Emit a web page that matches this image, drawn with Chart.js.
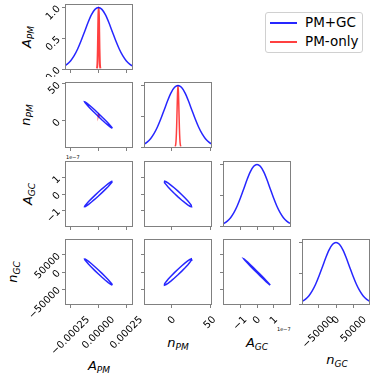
<!DOCTYPE html>
<html><head><meta charset="utf-8">
<script src="https://cdn.jsdelivr.net/npm/chart.js@4.4.1/dist/chart.umd.min.js"></script>
<style>
html,body{margin:0;padding:0;background:#fff;width:374px;height:379px;overflow:hidden;position:relative;font-family:"DejaVu Sans",sans-serif;}
canvas{position:absolute;}
.t{position:absolute;font-family:"DejaVu Sans";font-style:italic;font-size:13px;white-space:nowrap;line-height:1;color:#000;transform:translate(-50%,-50%);}
.t.v{transform:translate(-50%,-50%) rotate(-90deg);}
.t sub{font-size:9px;vertical-align:-3px;font-style:italic;}
.off{position:absolute;font-family:"DejaVu Sans";font-size:5px;color:#000;white-space:nowrap;line-height:1;}
#legend{position:absolute;left:265px;top:12px;width:98px;height:41px;box-sizing:border-box;border:1px solid #d0d0d0;border-radius:3px;background:#fff;}
.ll{position:absolute;height:1.5px;width:27px;}
.lt{position:absolute;font-family:"DejaVu Sans";font-size:13.5px;line-height:1;white-space:nowrap;color:#000;}
</style></head><body>
<div class="t v" style="left:28px;top:37px">A<sub>PM</sub></div>
<div class="t v" style="left:27px;top:115px">n<sub>PM</sub></div>
<div class="t v" style="left:29px;top:194px">A<sub>GC</sub></div>
<div class="t v" style="left:14px;top:272px">n<sub>GC</sub></div>
<div class="t" style="left:99px;top:367px">A<sub>PM</sub></div>
<div class="t" style="left:178px;top:344px">n<sub>PM</sub></div>
<div class="t" style="left:257px;top:344px">A<sub>GC</sub></div>
<div class="t" style="left:337px;top:361px">n<sub>GC</sub></div>
<div class="off" style="left:66px;top:155px">1e−7</div>
<div class="off" style="left:277px;top:327px">1e−7</div>
<div id="legend"></div>
<script>
const BLUE = 'rgba(0,0,255,0.85)';
const RED = 'rgba(255,0,0,0.75)';

// series names (legend)
const seriesNames = ['PM+GC', 'PM-only'];

// tick values and tick labels
const apmTicks = [-0.00025, 0, 0.00025];
const apmTickLabels = ['−0.00025', '0.00000', '0.00025'];
const npmTicks = [0, 50];
const npmTickLabels = ['0', '50'];
const agcTicks = [-1e-7, 0, 1e-7];
const agcTickLabels = ['−1', '0', '1'];
const ngcTicks = [-50000, 0, 50000];
const ngcTickLabels = ['−50000', '0', '50000'];
const pdfTicks = [0, 0.5, 1];
const pdfTickLabels = ['0.0', '0.5', '1.0'];

// marginal curves (PM+GC)
const apmGrid = [-0.000341,-0.00031,-0.000279,-0.000248,-0.000217,-0.000186,-0.000155,-0.000124,-0.000093,-0.000062,-0.000031,0,0.000031,0.000062,0.000093,0.000124,0.000155,0.000186,0.000217,0.000248,0.000279,0.00031,0.000341];
const apmPdf = [0.0228,0.0439,0.0796,0.1353,0.2163,0.3247,0.4578,0.6065,0.7548,0.8825,0.9692,1,0.9692,0.8825,0.7548,0.6065,0.4578,0.3247,0.2163,0.1353,0.0796,0.0439,0.0228];
const npmGrid = [-41.5,-37,-32.5,-28,-23.5,-19,-14.5,-10,-5.5,-1,3.5,8,12.5,17,21.5,26,30.5,35,39.5,44,48.5,53,57.5];
const npmPdf = [0.0228,0.0439,0.0796,0.1353,0.2163,0.3247,0.4578,0.6065,0.7548,0.8825,0.9692,1,0.9692,0.8825,0.7548,0.6065,0.4578,0.3247,0.2163,0.1353,0.0796,0.0439,0.0228];
const agcGrid = [-2.145e-7,-1.95e-7,-1.755e-7,-1.56e-7,-1.365e-7,-1.17e-7,-0.975e-7,-0.78e-7,-0.585e-7,-0.39e-7,-0.195e-7,0,0.195e-7,0.39e-7,0.585e-7,0.78e-7,0.975e-7,1.17e-7,1.365e-7,1.56e-7,1.755e-7,1.95e-7,2.145e-7];
const agcPdf = [0.0228,0.0439,0.0796,0.1353,0.2163,0.3247,0.4578,0.6065,0.7548,0.8825,0.9692,1,0.9692,0.8825,0.7548,0.6065,0.4578,0.3247,0.2163,0.1353,0.0796,0.0439,0.0228];
const ngcGrid = [-105875,-96250,-86625,-77000,-67375,-57750,-48125,-38500,-28875,-19250,-9625,0,9625,19250,28875,38500,48125,57750,67375,77000,86625,96250,105875];
const ngcPdf = [0.0228,0.0439,0.0796,0.1353,0.2163,0.3247,0.4578,0.6065,0.7548,0.8825,0.9692,1,0.9692,0.8825,0.7548,0.6065,0.4578,0.3247,0.2163,0.1353,0.0796,0.0439,0.0228];

// marginal curves (PM-only)
const apmRedGrid = [-0.000013,-0.0000105,-0.000008,-0.0000055,-0.000003,-0.0000005,0.000002,0.0000045,0.000007,0.0000095,0.000012,0.0000145,0.000017];
const apmRedPdf = [0.0111,0.0439,0.1353,0.3247,0.6065,0.8825,1,0.8825,0.6065,0.3247,0.1353,0.0439,0.0111];
const npmRedGrid = [4.4,5.0,5.6,6.2,6.8,7.4,8.0,8.6,9.2,9.8,10.4,11.0,11.6];
const npmRedPdf = [0.0111,0.0439,0.1353,0.3247,0.6065,0.8825,1,0.8825,0.6065,0.3247,0.1353,0.0439,0.0111];

// 2D contours (PM+GC)
const ellApmX = [0.000124,0.00012,0.000107,0.000088,0.000062,0.000032,0,-0.000032,-0.000062,-0.000088,-0.000107,-0.00012,-0.000124,-0.00012,-0.000107,-0.000088,-0.000062,-0.000032,0,0.000032,0.000062,0.000088,0.000107,0.00012];
const ellNpmX = [26,25.39,23.59,20.73,17,12.66,8,3.34,-1,-4.73,-7.59,-9.39,-10,-9.39,-7.59,-4.73,-1,3.34,8,12.66,17,20.73,23.59,25.39];
const ellAgcX = [0.78e-7,0.753e-7,0.676e-7,0.552e-7,0.39e-7,0.202e-7,0,-0.202e-7,-0.39e-7,-0.552e-7,-0.676e-7,-0.753e-7,-0.78e-7,-0.753e-7,-0.676e-7,-0.552e-7,-0.39e-7,-0.202e-7,0,0.202e-7,0.39e-7,0.552e-7,0.676e-7,0.753e-7];
const ellApmNpmY = [-9.9,-8.7,-6.4,-3.1,0.9,5.4,10.1,14.7,18.8,22.1,24.5,25.8,25.9,24.7,22.4,19.1,15.1,10.6,5.9,1.3,-2.8,-6.1,-8.5,-9.8];
const ellApmAgcY = [0.771e-7,0.776e-7,0.728e-7,0.630e-7,0.490e-7,0.316e-7,0.121e-7,-0.083e-7,-0.281e-7,-0.460e-7,-0.607e-7,-0.713e-7,-0.771e-7,-0.776e-7,-0.728e-7,-0.630e-7,-0.490e-7,-0.316e-7,-0.121e-7,0.083e-7,0.281e-7,0.460e-7,0.607e-7,0.713e-7];
const ellApmNgcY = [-38038,-35200,-29965,-22692,-13868,-4100,5948,15589,24170,31100,35917,38281,38038,35200,29965,22692,13868,4100,-5948,-15589,-24170,-31100,-35917,-38281];
const ellNpmAgcY = [-0.761e-7,-0.690e-7,-0.572e-7,-0.415e-7,-0.230e-7,-0.029e-7,0.173e-7,0.364e-7,0.530e-7,0.660e-7,0.745e-7,0.780e-7,0.761e-7,0.690e-7,0.572e-7,0.415e-7,0.230e-7,0.029e-7,-0.173e-7,-0.364e-7,-0.530e-7,-0.660e-7,-0.745e-7,-0.780e-7];
const ellNpmNgcY = [37615,38458,36679,32402,25914,17660,8208,-1806,-11700,-20790,-28471,-34207,-37615,-38458,-36679,-32402,-25914,-17660,-8208,1806,11700,20790,28471,34207];
const ellAgcNgcY = [-38423,-36483,-32059,-25449,-17106,-7596,2433,12293,21317,28890,34492,37745,38423,36483,32059,25449,17106,7596,-2433,-12293,-21317,-28890,-34492,-37745];

// 2D contour (PM-only)
const ellRedApmX = [0.000007,0.0000055,0.000002,-0.0000015,-0.000003,-0.0000015,0.000002,0.0000055];
const ellRedNpmY = [7.16,8.01,8.86,9.2,8.84,7.99,7.14,6.8];

// ---------- build ----------
function pts(xs, ys, close) {
  const p = xs.map((x, i) => ({x: x, y: ys[i]}));
  if (close) p.push({x: xs[0], y: ys[0]});
  return p;
}
function curve(xs, ys, color, label, bw) {
  return {label, data: pts(xs, ys, false), showLine: true, pointRadius: 0, borderColor: color, borderWidth: bw || 1.5, fill: false, tension: 0, cubicInterpolationMode: 'monotone'};
}
function loop(xs, ys, color, label) {
  return {label, data: pts(xs, ys, true), showLine: true, pointRadius: 0, borderColor: color, borderWidth: 1.5, fill: false, tension: 0};
}

const AX = {
  apm: {min: -0.00029, max: 0.0003, ticks: apmTicks, labels: apmTickLabels},
  npm: {min: -35.3, max: 51.3, ticks: npmTicks, labels: npmTickLabels},
  agc: {min: -1.95e-7, max: 1.95e-7, ticks: agcTicks, labels: agcTickLabels},
  ngc: {min: -94000, max: 94000, ticks: ngcTicks, labels: ngcTickLabels},
  pdf: {min: 0, max: 1.04, ticks: pdfTicks, labels: pdfTickLabels}
};

const COLS = [66, 145, 224, 303], ROWS = [5, 83, 162, 240], PW = 66, PH = 64;

const framePlugin = {
  id: 'frame',
  afterDatasetsDraw(chart) {
    const {ctx, chartArea: a} = chart;
    ctx.save();
    ctx.strokeStyle = '#808080';
    ctx.lineWidth = 1;
    ctx.strokeRect(Math.round(a.left) - 0.5, Math.round(a.top) - 0.5, Math.round(a.right - a.left) + 1, Math.round(a.bottom - a.top) + 1);
    ctx.restore();
  }
};
const xLabelShift = {
  id: 'xshift',
  beforeDraw(chart) {
    const s = chart.scales.x;
    if (!s.options.ticks.display) return;
    const items = s.getLabelItems();
    if (items._done) return;
    const ctx = chart.ctx;
    ctx.save();
    for (const it of items) {
      ctx.font = it.font.string;
      const L = ctx.measureText(it.label).width;
      it.options.translation[0] += 0.354 * L;
    }
    ctx.restore();
    items._done = true;
  }
};

function scaleDef(ax, dir, showLabels, size) {
  return {
    type: 'linear', position: dir === 'x' ? 'bottom' : 'left', min: ax.min, max: ax.max, bounds: 'data',
    afterBuildTicks: s => { s.ticks = ax.ticks.map(v => ({value: v})); },
    afterFit: s => {
      if (dir === 'x') { s.height = size; s.paddingLeft = 0; s.paddingRight = 0; }
      else { s.width = size; s.paddingTop = 0; s.paddingBottom = 0; }
    },
    ticks: {display: showLabels, autoSkip: false, minRotation: 45, maxRotation: 45, padding: dir === 'x' ? 6 : 3,
      color: '#000', font: {family: 'DejaVu Sans', size: 10}, callback: (v, i) => ax.labels[i]},
    grid: {display: true, drawOnChartArea: false, drawTicks: true, tickLength: 4, color: '#808080', lineWidth: 1},
    border: {display: false}
  };
}

function makePanel(r, c, xAx, yAx, datasets) {
  const padL = c === 0 ? 66 : 8, padT = 4, padR = r === 3 ? 30 : 4, padB = r === 3 ? 80 : 8;
  const w = padL + PW + padR, h = padT + PH + padB;
  const cv = document.createElement('canvas');
  cv.width = w; cv.height = h;
  cv.style.left = (COLS[c] - padL) + 'px';
  cv.style.top = (ROWS[r] - padT) + 'px';
  cv.style.width = w + 'px'; cv.style.height = h + 'px';
  document.body.appendChild(cv);
  new Chart(cv, {
    type: 'scatter',
    data: {datasets},
    options: {
      responsive: false, animation: false, devicePixelRatio: 1, events: [],
      layout: {padding: {left: 0, top: padT, right: padR, bottom: 0}},
      plugins: {legend: {display: false}, tooltip: {enabled: false}},
      scales: {x: scaleDef(xAx, 'x', r === 3, padB), y: scaleDef(yAx, 'y', c === 0, padL)}
    },
    plugins: [framePlugin, xLabelShift]
  });
}

// diagonal
makePanel(0, 0, AX.apm, AX.pdf, [curve(apmGrid, apmPdf, BLUE, seriesNames[0]), curve(apmRedGrid, apmRedPdf, RED, seriesNames[1], 2)]);
makePanel(1, 1, AX.npm, AX.pdf, [curve(npmGrid, npmPdf, BLUE, seriesNames[0]), curve(npmRedGrid, npmRedPdf, RED, seriesNames[1])]);
makePanel(2, 2, AX.agc, AX.pdf, [curve(agcGrid, agcPdf, BLUE, seriesNames[0])]);
makePanel(3, 3, AX.ngc, AX.pdf, [curve(ngcGrid, ngcPdf, BLUE, seriesNames[0])]);
// off-diagonal
makePanel(1, 0, AX.apm, AX.npm, [loop(ellApmX, ellApmNpmY, BLUE, seriesNames[0]), loop(ellRedApmX, ellRedNpmY, RED, seriesNames[1])]);
makePanel(2, 0, AX.apm, AX.agc, [loop(ellApmX, ellApmAgcY, BLUE, seriesNames[0])]);
makePanel(3, 0, AX.apm, AX.ngc, [loop(ellApmX, ellApmNgcY, BLUE, seriesNames[0])]);
makePanel(2, 1, AX.npm, AX.agc, [loop(ellNpmX, ellNpmAgcY, BLUE, seriesNames[0])]);
makePanel(3, 1, AX.npm, AX.ngc, [loop(ellNpmX, ellNpmNgcY, BLUE, seriesNames[0])]);
makePanel(3, 2, AX.agc, AX.ngc, [loop(ellAgcX, ellAgcNgcY, BLUE, seriesNames[0])]);

// legend
const lg = document.getElementById('legend');
[BLUE, RED].forEach((col, i) => {
  const l = document.createElement('div');
  l.className = 'll'; l.style.left = '4px'; l.style.top = (9 + 19 * i) + 'px'; l.style.background = col;
  lg.appendChild(l);
  const t = document.createElement('div');
  t.className = 'lt'; t.style.left = '39px'; t.style.top = (3 + 19 * i) + 'px'; t.textContent = seriesNames[i];
  lg.appendChild(t);
});
</script>
</body></html>
